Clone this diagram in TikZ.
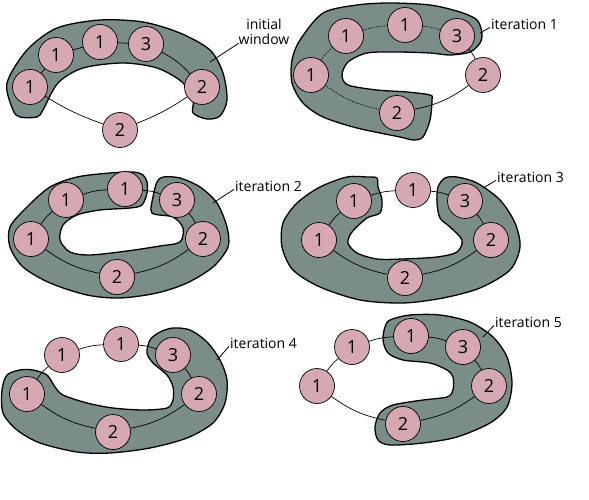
\documentclass[tikz,border=0pt]{standalone}
\usepackage{fontspec}
\setmainfont{Open Sans}
\usepackage{xcolor}
\usepackage{tikz}
\definecolor{grigio}{RGB}{122,141,137}
\definecolor{rosa}{RGB}{214,169,178}

\begin{document}
\begin{tikzpicture}[x=1pt, y=-1pt]
\tikzset{
    ringnode/.style = {circle, draw=black, fill=rosa, line width=0.7pt, minimum size=35pt, inner sep=0pt, font=\fontsize{18}{18}\selectfont},
    window/.style = {draw=black, line width=1.3pt, fill=grigio},
    link/.style = {line width=0.7pt},
    hiddenlink/.style = {line width=0.6pt, dash pattern=on 1.5pt off 1.2pt},
    tag/.style = {font=\fontsize{14}{15}\selectfont, inner sep=1pt, align=center},
    leader/.style = {line width=0.8pt},
}
\useasboundingbox (0,0) rectangle (589,500);

% windows
\draw[window] plot[smooth cycle, tension=0.5] coordinates {
  (7,83) (13,110) (20,117) (37,117) (43,110) (58,83) (83,68) (123,63) (157,68)
  (182,82) (193,100) (193,113) (207,119) (220,116) (227,100) (223,73) (210,50)
  (180,33) (143,22) (100,20) (57,28) (27,50)};
\draw[window] plot[smooth cycle, tension=0.5] coordinates {
  (323,13) (357,5) (390,3) (430,5) (460,12) (477,20) (482,33) (480,43) (470,52)
  (450,55) (430,53) (397,52) (367,53) (348,62) (342,75) (348,85) (377,90)
  (407,92) (430,95) (432,100) (430,120) (423,137) (413,140) (400,137) (357,128)
  (323,117) (303,103) (292,83) (292,60) (300,40)};
\draw[window] plot[smooth cycle, tension=0.5] coordinates {
  (143,175) (133,172) (110,173) (77,177) (50,187) (27,207) (10,227) (10,247)
  (23,267) (50,283) (87,295) (120,298) (157,293) (187,283) (213,267) (228,247)
  (227,227) (217,203) (200,187) (180,178) (163,177) (157,182) (153,197)
  (152,213) (173,217) (183,228) (180,242) (160,246) (127,251) (90,255) (70,252)
  (60,240) (63,225) (77,215) (100,210) (130,208) (142,205) (147,193) (147,182)};
\draw[window] plot[smooth cycle, tension=0.5] coordinates {
  (377,178) (367,177) (347,177) (320,187) (297,203) (283,223) (282,247)
  (293,270) (320,287) (360,300) (403,303) (443,298) (480,288) (510,270)
  (520,247) (515,223) (500,200) (477,183) (457,177) (445,178) (438,187)
  (437,203) (440,218) (450,227) (462,240) (457,252) (437,257) (403,259)
  (377,259) (357,253) (348,243) (352,232) (367,218) (380,213) (382,200) (378,187)};
\draw[window] plot[smooth cycle, tension=0.5] coordinates {
  (7,375) (20,370) (33,370) (47,375) (55,387) (63,395) (87,403) (113,408)
  (143,410) (167,408) (173,400) (173,387) (167,375) (153,363) (147,353)
  (150,340) (160,332) (173,328) (190,330) (207,342) (220,360) (227,380)
  (225,403) (213,423) (187,438) (150,448) (110,453) (77,452) (40,443)
  (17,430) (3,413) (2,390)};
\draw[window] plot[smooth cycle, tension=0.5] coordinates {
  (390,320) (410,315) (440,315) (470,322) (493,337) (507,357) (512,383)
  (507,407) (490,423) (457,437) (423,443) (390,445) (378,440) (375,427)
  (380,413) (393,405) (423,400) (447,397) (453,390) (453,377) (447,370)
  (430,363) (403,360) (388,353) (383,340) (385,327)};

% initial window
\node[ringnode] (w0a) at (30,87) {1};
\node[ringnode] (w0b) at (56,55) {1};
\node[ringnode] (w0c) at (100,42) {1};
\node[ringnode] (w0d) at (146,44) {3};
\node[ringnode] (w0e) at (202,87) {2};
\node[ringnode] (w0f) at (120,130) {2};
\draw[link] (w0a) -- (w0b) -- (w0c) -- (w0d);
\draw[link] (w0d) to[bend left=10] (w0e);
\draw[link] (w0e) to[bend left=6] (w0f);
\draw[link] (w0f) to[bend left=6] (w0a);

% iterations
\foreach \i/\bx/\by in {1/397/113, 2/117/277, 3/405/278, 4/113/432, 5/403/424} {
  \node[ringnode] (w\i a) at ({\bx-86},{\by-38}) {1};
  \node[ringnode] (w\i b) at ({\bx-51},{\by-77}) {1};
  \node[ringnode] (w\i c) at ({\bx+8},{\by-88}) {1};
  \node[ringnode] (w\i d) at ({\bx+60},{\by-77}) {3};
  \node[ringnode] (w\i e) at ({\bx+86},{\by-38}) {2};
  \node[ringnode] (w\i f) at (\bx,\by) {2};
}
\draw[hiddenlink] (w1a) to[bend left=8] (w1b);
\draw[hiddenlink] (w1b) to[bend left=8] (w1c);
\draw[hiddenlink] (w1c) to[bend left=8] (w1d);
\draw[link] (w1d) to[bend left=8] (w1e);
\draw[link] (w1e) to[bend left=12] (w1f);
\draw[hiddenlink] (w1f) to[bend left=12] (w1a);
\foreach \i in {2,3,4,5} {
  \draw[link] (w\i a) to[bend left=8] (w\i b);
  \draw[link] (w\i b) to[bend left=8] (w\i c);
  \draw[link] (w\i c) to[bend left=8] (w\i d);
  \draw[link] (w\i d) to[bend left=8] (w\i e);
  \draw[link] (w\i e) to[bend left=12] (w\i f);
  \draw[link] (w\i f) to[bend left=12] (w\i a);
}

% labels
\node[tag] (t0) at (264,32) {initial\\window};
\node[tag, anchor=west] (t1) at (490,24) {iteration 1};
\node[tag, anchor=west] (t2) at (234,186) {iteration 2};
\node[tag, anchor=west] (t3) at (496,177) {iteration 3};
\node[tag, anchor=west] (t4) at (229,343) {iteration 4};
\node[tag, anchor=west] (t5) at (494,322) {iteration 5};
\coordinate (p0) at (210,62);
\coordinate (p1) at (480,33);
\coordinate (p2) at (213,203);
\coordinate (p3) at (483,188);
\coordinate (p4) at (217,360);
\coordinate (p5) at (483,337);
\draw[leader] ([xshift=-25pt,yshift=3pt]t0.south) -- (p0);
\foreach \k in {1,...,5} {
  \draw[leader] ([yshift=3pt]t\k.south west) -- (p\k);
}

\end{tikzpicture}
\end{document}
